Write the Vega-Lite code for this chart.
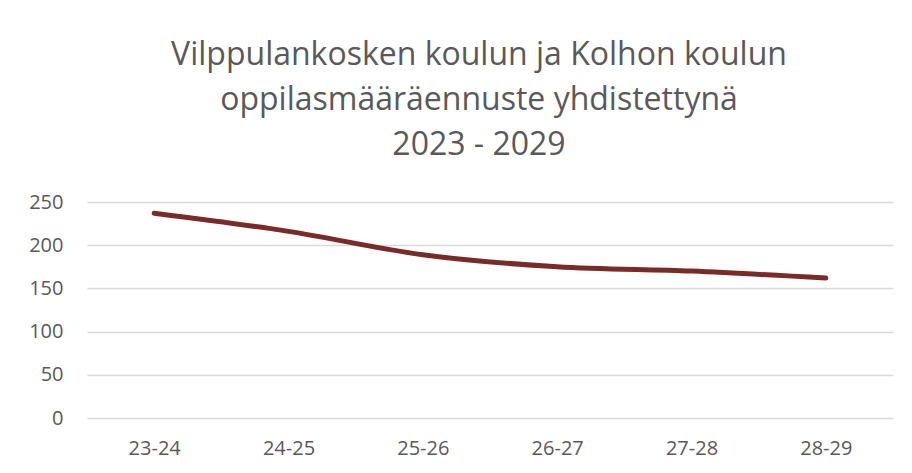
{
  "$schema": "https://vega.github.io/schema/vega-lite/v6.json",
  "autosize": {"type": "none"},
  "width": 806,
  "height": 216,
  "padding": {"left": 87, "top": 202, "right": 19, "bottom": 55},
  "background": "white",
  "title": {
    "text": ["Vilppulankosken koulun ja Kolhon koulun", "oppilasmääräennuste yhdistettynä", "2023 - 2029"],
    "font": "Open Sans",
    "fontSize": 32,
    "fontWeight": "normal",
    "color": "#595959",
    "lineHeight": 45,
    "anchor": "middle",
    "frame": "group",
    "dx": -11,
    "offset": 30
  },
  "data": {
    "values": [
      {"lukuvuosi": "23-24", "oppilaat": 237},
      {"lukuvuosi": "24-25", "oppilaat": 216},
      {"lukuvuosi": "25-26", "oppilaat": 189},
      {"lukuvuosi": "26-27", "oppilaat": 175},
      {"lukuvuosi": "27-28", "oppilaat": 170},
      {"lukuvuosi": "28-29", "oppilaat": 162}
    ]
  },
  "mark": {"type": "line", "color": "#7B2A2A", "strokeWidth": 5, "strokeCap": "round", "interpolate": "monotone"},
  "encoding": {
    "x": {
      "field": "lukuvuosi",
      "type": "ordinal",
      "sort": null,
      "scale": {"type": "point", "padding": 0.5},
      "axis": {
        "title": null,
        "labelAngle": 0,
        "ticks": false,
        "domain": false,
        "labelFont": "Open Sans",
        "labelFontSize": 20,
        "labelColor": "#595959",
        "labelPadding": 20
      }
    },
    "y": {
      "field": "oppilaat",
      "type": "quantitative",
      "scale": {"domain": [0, 250], "nice": false},
      "axis": {
        "title": null,
        "values": [0, 50, 100, 150, 200, 250],
        "ticks": false,
        "domain": false,
        "grid": true,
        "gridColor": "#D9D9D9",
        "gridWidth": 1.5,
        "labelFont": "Open Sans",
        "labelFontSize": 20,
        "labelColor": "#595959",
        "labelPadding": 24
      }
    }
  },
  "config": {"view": {"stroke": null}}
}
